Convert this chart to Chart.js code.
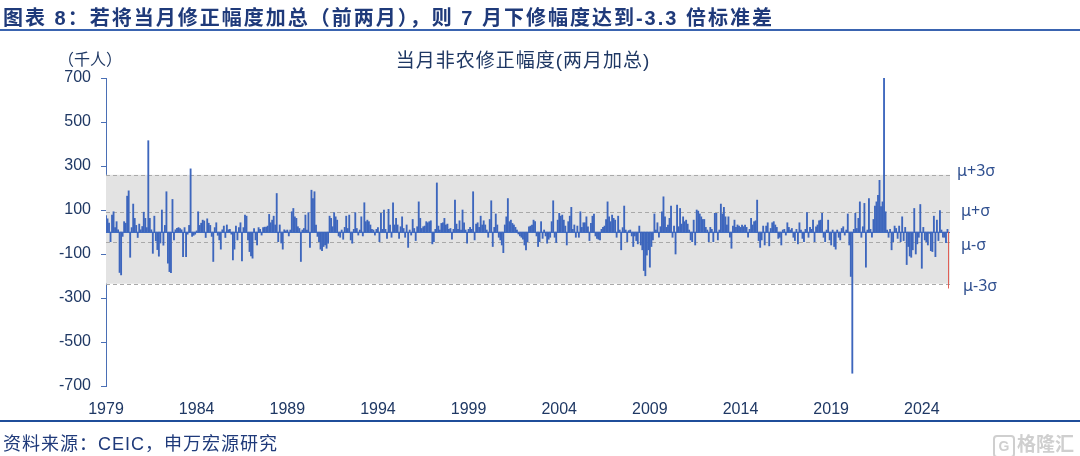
<!DOCTYPE html>
<html>
<head>
<meta charset="utf-8">
<script src="https://cdn.jsdelivr.net/npm/chart.js@4.4.1/dist/chart.umd.min.js"></script>
<style>
  body { margin: 0; background: #fff; }
  #wrap { position: relative; width: 1080px; height: 456px; overflow: hidden;
          font-family: "Liberation Sans", "Noto Sans CJK SC", sans-serif; }
  #chart { position: absolute; left: 0; top: 0; }
  .txt { position: absolute; white-space: nowrap; }
  #header { left: 3px; top: 2px; font-size: 20px; letter-spacing: 2px; font-weight: bold; color: #1F3A7A; }
  #topLine { position: absolute; left: 0; top: 29px; width: 1080px; height: 2px; background: #3A64B0; }
  #bottomLine { position: absolute; left: 0; top: 420px; width: 1080px; height: 2px; background: #1F4E9A; }
  #source { left: 3px; top: 429px; font-size: 18px; letter-spacing: 1px; color: #1F3A7A; }
  #title { left: 0; width: 1046px; text-align: center; top: 45px; font-size: 19px; letter-spacing: 1px; color: #1F3864; }
  #unit { left: 58px; top: 46px; font-size: 16px; color: #1F3864; }
  #mark { right: 6px; top: 429px; font-size: 19px; color: #CFCFCF; font-weight: bold; }
  #mark span { display: inline-block; border: 2px solid #CFCFCF; border-radius: 4px;
               width: 18px; height: 19px; line-height: 19px; text-align: center; font-size: 14px; margin-right: 2px; }
</style>
</head>
<body>
<div id="wrap">
  <canvas id="chart" width="1080" height="456"></canvas>
  <div class="txt" id="header">图表 8：若将当月修正幅度加总（前两月），则 7 月下修幅度达到-3.3 倍标准差</div>
  <div id="topLine"></div>
  <div class="txt" id="unit">（千人）</div>
  <div class="txt" id="title">当月非农修正幅度(两月加总)</div>
  <div id="bottomLine"></div>
  <div class="txt" id="source">资料来源：CEIC，申万宏源研究</div>
  <div class="txt" id="mark"><span>G</span>格隆汇</div>
</div>
<script>
// monthly revision (sum of previous two months), thousand persons, 1979-01 .. 2025-07
const revisions = [
  75, 60, 40, -44, 77, 92, 20, 47, 10, -184, -195, -20,        // 1979
  47, 40, 163, 187, -115, 20, 127, 62, 30, -25, 36, 10,        // 1980
  25, 90, 62, 20, 415, 62, 10, -97, 72, -40, -80, -110,        // 1981
  -50, 100, -60, 30, 183, -142, -180, -185, 148, -36, 10, 17,  // 1982
  20, 15, 10, -112, 20, -112, -10, 30, 287, -20, -15, -10,     // 1983
  5, 92, 30, 40, 54, 50, -25, 60, 40, 30, -20, -134,           // 1984
  20, 42, -15, -36, -78, 10, 27, -25, 32, 10, 12, -10,         // 1985
  -127, -78, 27, -36, 20, 42, -131, 20, 77, 72, -36, -89,      // 1986
  -109, -119, 15, -36, -59, 20, 12, -14, 20, 22, 22, 27,       // 1987
  80, 42, 54, 72, 32, 175, -44, 32, -50, -78, 10, 5,           // 1988
  9, -18, 9, 92, 107, 69, 62, 24, 16, -134, 9, 16,             // 1989
  77, 9, 88, -70, 190, 152, 183, 32, -20, -44, -78, -85,       // 1990
  -66, -59, -74, -51, 72, 62, 24, 88, 69, 54, -18, -24,        // 1991
  9, -33, 21, 72, 16, 77, -36, -51, 12, 88, 16, -14,           // 1992
  9, 69, -18, 133, 47, 54, 47, 32, 12, 9, -14, 12,             // 1993
  20, -44, 85, 12, 100, 12, -29, 103, 32, -24, 133, 32,        // 1994
  62, 32, -29, 24, 69, 16, -24, 32, -70, 9, -14, 57,           // 1995
  16, -39, 24, 137, 62, 16, 24, 27, 47, 42, 47, 51,            // 1996
  -54, -44, 12, 223, 27, 9, 39, 42, 62, 32, 36, 12,            // 1997
  16, -33, 12, 145, 36, 12, 51, 9, 100, 42, 9, -51,            // 1998
  12, 21, 12, 183, -36, 36, 42, 21, 72, 32, 51, 32,            // 1999
  9, -24, 57, 142, -66, 21, 82, 32, -24, -36, -59, -94,        // 2000
  32, 69, 152, 47, 54, 39, 32, 21, 9, -9, -18, -24,            // 2001
  -33, -59, -81, -44, 24, 27, 32, 54, 47, -18, -66, -44,       // 2002
  47, -29, 9, -18, -51, -33, -24, 47, 142, -24, -48, 54,       // 2003
  85, 72, 77, 54, 27, -59, 47, 72, 112, 12, 32, -24,           // 2004
  27, -24, 92, 21, 42, 42, 69, 24, -39, 39, 72, 82,            // 2005
  -18, -29, -33, -36, 12, 21, 27, 57, 137, 69, 47, 77,         // 2006
  62, 54, -24, 72, 9, -81, 20, 118, 9, -44, 6, 9,              // 2007
  -18, -66, -18, -39, -54, 27, -59, -81, -175, -199, -105, -81, // 2008
  -160, -66, -36, 82, 9, 42, -24, 24, 92, 160, 69, 21,         // 2009
  32, 62, 118, -24, 27, -100, 122, 24, 107, 36, 69, 47,        // 2010
  54, 36, 9, -36, -44, 54, -59, 100, 95, 82, 69, 57,           // 2011
  57, 21, 9, -44, 21, 12, -44, 85, 85, -36, 9, 127,            // 2012
  82, 112, 69, 32, 69, -24, -74, 27, 54, 21, 32, 27,           // 2013
  21, 32, 24, 32, 21, -24, 12, 62, 32, 47, 51, 145,            // 2014
  -39, -70, -36, 27, -59, 27, 42, -63, 16, 42, 47, 32,         // 2015
  21, -29, -24, -59, 9, 12, -14, 42, 21, 9, 16, -24,           // 2016
  -39, 12, -54, 42, 9, -29, -44, 12, 88, -24, 21, 12,          // 2017
  54, -44, 24, 32, 51, 54, 85, -24, -44, 9, 54, -36,           // 2018
  -59, 9, -66, -78, 9, -24, -36, 16, 24, -14, 9, 82,           // 2019
  -59, -202, -642, 12, 85, 16, 62, 137, -24, 24, 130, -160,    // 2020
  9, 152, 12, -24, 57, 118, 137, 167, 235, 115, 137, 702,      // 2021
  92, 9, -24, 12, -81, -44, 27, 16, -29, 27, -44, 69,          // 2022
  -39, 21, -148, -66, -109, -115, -81, 107, -100, -54, -24, 125, // 2023
  -165, 21, -36, -44, -59, -6, -85, -89, 72, -112, 54, -39,    // 2024
  97, 9, -24, -24, -48, 12, -255                               // 2025
];

const tickYears = ['1979', '1984', '1989', '1994', '1999', '2004', '2009', '2014', '2019', '2024'];

// band levels
const bandLevels = [260, 92, -44, -235];
const bandLabels = ['μ+3σ', 'μ+σ', 'μ-σ', 'μ-3σ'];

// categories: one per month
const months = [];
for (let i = 0; i < revisions.length; i++) {
    const y = 1979 + Math.floor(i / 12);
    const m = (i % 12) + 1;
    months.push(y + '-' + (m < 10 ? '0' + m : m));
}

const lastIndex = revisions.length - 1;

// grey sigma band, dashed lines and zero line behind the bars
const bandPlugin = {
    id: 'band',
    beforeDatasetsDraw(chart) {
        const { ctx, chartArea, scales } = chart;
        const x0 = chartArea.left;
        const x1 = scales.x.getPixelForValue(lastIndex) + 1;
        const yTop = scales.y.getPixelForValue(bandLevels[0]);
        const yBot = scales.y.getPixelForValue(bandLevels[3]);
        ctx.save();
        ctx.fillStyle = '#E3E3E3';
        ctx.fillRect(x0, yTop, x1 - x0, yBot - yTop);
        ctx.strokeStyle = '#A9A9A9';
        ctx.lineWidth = 1;
        ctx.setLineDash([4, 3]);
        bandLevels.forEach(v => {
            const y = Math.round(scales.y.getPixelForValue(v)) + 0.5;
            ctx.beginPath();
            ctx.moveTo(x0, y);
            ctx.lineTo(x1, y);
            ctx.stroke();
        });
        ctx.setLineDash([]);
        const y0 = Math.round(scales.y.getPixelForValue(0)) + 0.5;
        ctx.strokeStyle = '#4472C4';
        ctx.beginPath();
        ctx.moveTo(x0, y0);
        ctx.lineTo(x1, y0);
        ctx.stroke();
        ctx.restore();
    },
    afterDraw(chart) {
        const { ctx, scales } = chart;
        const offsets = [-3, 0, 4, 3];
        const xs = [957, 961, 961, 963];
        ctx.save();
        ctx.fillStyle = '#2F4F8F';
        ctx.font = '16px "Noto Sans", "Liberation Sans", sans-serif';
        ctx.textBaseline = 'middle';
        bandLabels.forEach((t, i) => {
            ctx.fillText(t, xs[i], scales.y.getPixelForValue(bandLevels[i]) + offsets[i]);
        });
        ctx.restore();
    }
};

const ctx = document.getElementById('chart').getContext('2d');
new Chart(ctx, {
    type: 'bar',
    data: {
        labels: months,
        datasets: [{
            data: revisions,
            backgroundColor: c => c.dataIndex === lastIndex ? '#E0554B' : '#3D66BD',
            barThickness: 1.2,
            borderWidth: 0
        }]
    },
    options: {
        responsive: false,
        animation: false,
        layout: { padding: { left: 0, right: 131, top: 78, bottom: 40 } },
        plugins: {
            legend: { display: false },
            tooltip: { enabled: false }
        },
        scales: {
            x: {
                type: 'category',
                offset: false,
                grid: { display: false },
                border: { display: false },
                afterFit: scale => { scale.height = 30; },
                ticks: {
                    autoSkip: false,
                    maxRotation: 0,
                    minRotation: 0,
                    padding: 6,
                    color: '#1F3864',
                    font: { family: '"Liberation Sans", Arial, sans-serif', size: 16 },
                    callback: (value, index) => index % 60 === 0 ? tickYears[index / 60] : null
                }
            },
            y: {
                min: -700,
                max: 700,
                afterFit: scale => { scale.width = 106; },
                grid: { drawOnChartArea: false, drawTicks: true, tickLength: 5, color: '#4A6FB5' },
                border: { color: '#4A6FB5', width: 1 },
                ticks: {
                    stepSize: 200,
                    padding: 10,
                    color: '#1F3864',
                    font: { family: '"Liberation Sans", Arial, sans-serif', size: 16 }
                }
            }
        }
    },
    plugins: [bandPlugin]
});
</script>
</body>
</html>
